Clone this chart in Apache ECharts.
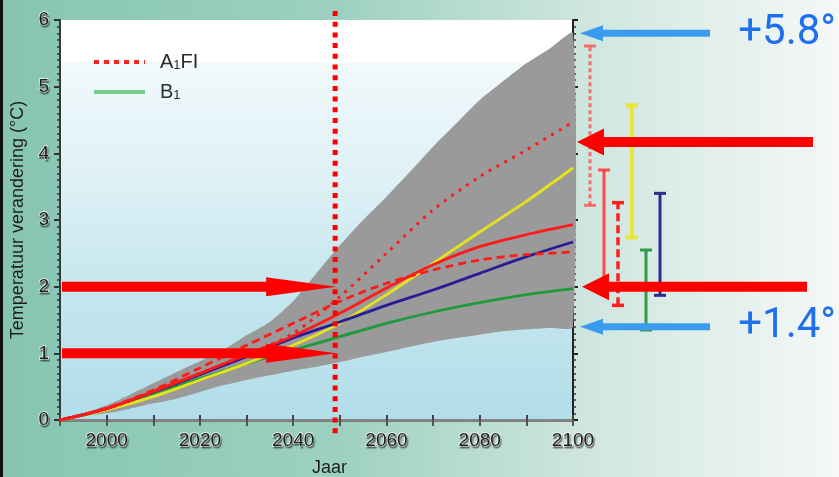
<!DOCTYPE html>
<html>
<head>
<meta charset="utf-8">
<script src="https://cdn.jsdelivr.net/npm/echarts@6/dist/echarts.min.js"></script>
<style>
  html, body { margin: 0; padding: 0; width: 839px; height: 477px; overflow: hidden; }
  #chart { width: 839px; height: 477px; }
</style>
</head>
<body>
<div id="chart"></div>
<script>
// Scenario projections of global temperature change (°C relative to 1990)
const years = [1990, 2000, 2010, 2020, 2030, 2040, 2050, 2060, 2070, 2080, 2090, 2100];
const a1fi = [0, 0.17, 0.42, 0.70, 0.98, 1.30, 1.85, 2.50, 3.15, 3.65, 4.05, 4.47];
const a1b  = [0, 0.17, 0.43, 0.70, 0.98, 1.26, 1.60, 1.98, 2.33, 2.60, 2.78, 2.93];
const a1t  = [0, 0.18, 0.45, 0.78, 1.12, 1.45, 1.78, 2.05, 2.25, 2.40, 2.48, 2.52];
const a2   = [0, 0.15, 0.35, 0.60, 0.85, 1.12, 1.45, 1.88, 2.35, 2.82, 3.28, 3.78];
const b1   = [0, 0.16, 0.40, 0.62, 0.85, 1.05, 1.25, 1.45, 1.62, 1.76, 1.88, 1.97];
const b2   = [0, 0.17, 0.42, 0.68, 0.95, 1.23, 1.47, 1.72, 1.95, 2.20, 2.45, 2.67];

// Full model/scenario envelope
const envYears = [1990, 1995, 2000, 2005, 2010, 2015, 2020, 2025, 2030, 2035, 2040, 2045,
                  2050, 2055, 2060, 2065, 2070, 2075, 2080, 2085, 2090, 2095, 2100];
const envLow   = [0, 0.06, 0.10, 0.17, 0.25, 0.32, 0.42, 0.52, 0.60, 0.67, 0.74, 0.80,
                  0.87, 0.95, 1.02, 1.10, 1.17, 1.23, 1.28, 1.33, 1.36, 1.38, 1.40];
const envHigh  = [0, 0.10, 0.22, 0.38, 0.55, 0.72, 0.88, 1.05, 1.27, 1.47, 1.78, 2.20,
                  2.62, 3.00, 3.35, 3.72, 4.10, 4.45, 4.80, 5.08, 5.35, 5.57, 5.80];

// 2100 ranges per scenario
const barNames = ['A1FI', 'A1B', 'A1T', 'A2', 'B1', 'B2'];
const barLow   = [3.22, 2.00, 1.72, 2.74, 1.35, 1.87];
const barHigh  = [5.61, 3.75, 3.26, 4.72, 2.55, 3.40];

// Annotations
const markerYear = 2049;
const pointerLevels = [2.0, 1.0];        // arrows running up to the marker year
const sideRedLevels = [4.17, 2.0];       // red arrows beside the 2100 ranges
const extremeLevels = [5.8, 1.4];        // blue arrows with labels

const RED = '#ff0000';
const barStyles = {
  A1FI: { color: 'rgba(255,70,70,0.75)', dash: [4, 3], width: 3 },
  A1B:  { color: 'rgba(255,50,50,0.85)', dash: null, width: 3 },
  A1T:  { color: '#ff1f1f', dash: [8, 4], width: 3.5 },
  A2:   { color: '#e8e637', dash: null, width: 4 },
  B1:   { color: '#2f9d48', dash: null, width: 3 },
  B2:   { color: '#2f2a8e', dash: null, width: 3 }
};

const pairs = arr => years.map((y, i) => [y, arr[i]]);

const tickFont = {
  fontFamily: 'Liberation Sans', fontSize: 19, color: '#1e1e1e',
  textBorderColor: 'rgba(255,255,255,0.85)', textBorderWidth: 1.5,
  textShadowColor: 'rgba(0,0,0,0.35)', textShadowOffsetX: 1, textShadowOffsetY: 2, textShadowBlur: 1
};

function lineSeries(name, arr, color, type, width, z) {
  return {
    name, type: 'line', xAxisIndex: 0, yAxisIndex: 0,
    data: pairs(arr), smooth: 0.3, symbol: 'none', showSymbol: false,
    lineStyle: { color, width, type, cap: 'butt' }, itemStyle: { color },
    z, silent: true
  };
}

const hiddenSymbol = { color: 'rgba(0,0,0,0)', borderColor: 'rgba(0,0,0,0)', borderWidth: 0 };

const option = {
  animation: false,
  backgroundColor: {
    type: 'linear', x: 0, y: 0, x2: 1, y2: 0,
    colorStops: [
      { offset: 0, color: '#86c5b1' },
      { offset: 0.4, color: '#9dd0c1' },
      { offset: 0.7, color: '#cfe6df' },
      { offset: 1, color: '#f5f8f7' }
    ]
  },
  grid: [
    {
      left: 60, right: 266, top: 20, bottom: 57, show: true, borderWidth: 0,
      outerBoundsMode: 'none', containLabel: false,
      backgroundColor: {
        type: 'linear', x: 0, y: 0, x2: 0, y2: 1,
        colorStops: [
          { offset: 0, color: '#ffffff' },
          { offset: 0.1, color: '#ffffff' },
          { offset: 0.11, color: '#f1f9fb' },
          { offset: 0.4, color: '#def1f6' },
          { offset: 0.62, color: '#c9e8ef' },
          { offset: 1, color: '#b1dde9' }
        ]
      }
    },
    { left: 583, width: 84, top: 20, bottom: 57, outerBoundsMode: 'none', containLabel: false }
  ],
  legend: {
    left: 87, top: 47, orient: 'vertical', itemWidth: 51, itemHeight: 16, itemGap: 10,
    data: [
      { name: 'A1FI', lineStyle: { color: '#ff2020', width: 4, type: [5, 5] }, itemStyle: hiddenSymbol },
      { name: 'B1', lineStyle: { color: '#7ccd8d', width: 4, type: 'solid' }, itemStyle: hiddenSymbol }
    ],
    formatter: n => n.replace('1', '{s|1}'),
    textStyle: {
      fontFamily: 'Liberation Sans', fontSize: 20, color: '#2b2b2b', padding: [0, 0, 0, 10],
      rich: { s: { fontFamily: 'Liberation Sans', fontSize: 13, color: '#2b2b2b', verticalAlign: 'bottom', padding: [4, 0, 0, 0] } }
    }
  },
  xAxis: [
    {
      type: 'value', gridIndex: 0, min: 1990, max: 2100, interval: 10, position: 'bottom',
      axisLine: { lineStyle: { color: '#7d7d7d', width: 3 } },
      axisTick: { length: 6, lineStyle: { color: '#555', width: 2 } },
      axisLabel: Object.assign({ margin: 11, formatter: v => (v % 20 === 0 ? String(v) : '') }, tickFont),
      splitLine: { show: false },
      name: 'Jaar', nameLocation: 'middle', nameGap: 39,
      nameTextStyle: { fontFamily: 'Liberation Sans', fontSize: 18, color: '#1e1e1e', padding: [0, 0, 0, 26] }
    },
    {
      type: 'value', gridIndex: 0, min: 1990, max: 2100, interval: 10, position: 'top',
      axisLine: { lineStyle: { color: '#858585', width: 2 } },
      axisTick: { length: 5, lineStyle: { color: '#444', width: 2 } },
      axisLabel: { show: false }, splitLine: { show: false }
    },
    {
      type: 'category', gridIndex: 1, data: barNames, show: false
    }
  ],
  yAxis: [
    {
      type: 'value', gridIndex: 0, min: 0, max: 6, interval: 1, position: 'left',
      axisLine: { show: true, lineStyle: { color: '#3a3a3a', width: 2 } },
      axisTick: { show: true, length: 6, lineStyle: { color: '#333', width: 2 } },
      minorTick: { show: true, splitNumber: 10, length: 3, lineStyle: { color: '#333', width: 1.5 } },
      axisLabel: Object.assign({ margin: 11 }, tickFont),
      splitLine: { show: false },
      name: 'Temperatuur verandering (°C)', nameLocation: 'middle', nameGap: 31,
      nameTextStyle: { fontFamily: 'Liberation Sans', fontSize: 18, color: '#1e1e1e' }
    },
    {
      type: 'value', gridIndex: 0, min: 0, max: 6, interval: 1, position: 'right',
      axisLine: { show: true, lineStyle: { color: '#222', width: 2 } },
      axisTick: { show: true, length: 5, lineStyle: { color: '#222', width: 2 } },
      minorTick: { show: true, splitNumber: 10, length: 3, lineStyle: { color: '#333', width: 1.5 } },
      axisLabel: { show: false }, splitLine: { show: false }
    },
    {
      type: 'value', gridIndex: 1, min: 0, max: 6, show: false
    }
  ],
  series: [
    {
      // gray envelope between envLow and envHigh
      name: 'envelope', type: 'custom', xAxisIndex: 0, yAxisIndex: 0, silent: true, z: 1,
      data: [[envYears[0], envLow[0]]],
      renderItem: (params, api) => {
        const upper = envYears.map((y, i) => api.coord([y, envHigh[i]]));
        const lower = envYears.map((y, i) => api.coord([y, envLow[i]])).reverse();
        return {
          type: 'polygon',
          shape: { points: upper.concat(lower), smooth: 0.2 },
          style: { fill: '#9a9a9a' }
        };
      }
    },
    lineSeries('B1', b1, '#1f9a3b', 'solid', 2.8, 3),
    lineSeries('A2', a2, '#e6e21e', 'solid', 2.8, 3),
    lineSeries('B2', b2, '#2a1c96', 'solid', 2.8, 4),
    lineSeries('A1B', a1b, '#ff1a1a', 'solid', 2.8, 5),
    lineSeries('A1T', a1t, '#ff1a1a', [8, 5], 2.8, 5),
    lineSeries('A1FI', a1fi, '#ff1a1a', [3, 6], 3, 6),
    {
      name: 'ranges', type: 'custom', xAxisIndex: 2, yAxisIndex: 2, silent: true, z: 4,
      data: barNames.map((n, i) => [i, barLow[i], barHigh[i]]),
      renderItem: (params, api) => {
        const i = api.value(0);
        const st = barStyles[barNames[i]];
        const lo = api.coord([i, api.value(1)]);
        const hi = api.coord([i, api.value(2)]);
        const cap = 6;
        const base = { stroke: st.color, lineWidth: st.width, fill: null };
        return {
          type: 'group',
          children: [
            { type: 'line', shape: { x1: lo[0], y1: lo[1], x2: hi[0], y2: hi[1] },
              style: Object.assign({}, base, { lineDash: st.dash || null }) },
            { type: 'line', shape: { x1: hi[0] - cap, y1: hi[1], x2: hi[0] + cap, y2: hi[1] }, style: base },
            { type: 'line', shape: { x1: lo[0] - cap, y1: lo[1], x2: lo[0] + cap, y2: lo[1] }, style: base }
          ]
        };
      }
    }
  ]
};

const chart = echarts.init(document.getElementById('chart'));
chart.setOption(option);

const toPx = (x, y) => chart.convertToPixel({ xAxisIndex: 0, yAxisIndex: 0 }, [x, y]);

// Arrow polygon: shaft from tail to head, head ending at tip
function arrow(tailX, tipX, y, shaftH, headL, headH, color) {
  const d = tipX > tailX ? 1 : -1;
  const baseX = tipX - d * headL;
  return {
    type: 'polygon', z: 20, silent: true,
    shape: { points: [
      [tailX, y - shaftH / 2], [baseX, y - shaftH / 2], [baseX, y - headH / 2],
      [tipX, y], [baseX, y + headH / 2], [baseX, y + shaftH / 2], [tailX, y + shaftH / 2]
    ] },
    style: { fill: color }
  };
}

const graphics = [];
// dark frame edge on the left
graphics.push({ type: 'rect', shape: { x: 0, y: 0, width: 3, height: 477 }, style: { fill: '#111' }, z: 30, silent: true });

// dotted vertical marker
const mx = toPx(markerYear, 0)[0];
graphics.push({
  type: 'line', z: 18, silent: true,
  shape: { x1: mx, y1: 11, x2: mx, y2: 434 },
  style: { stroke: RED, lineWidth: 5, lineDash: [5, 5.7] }
});

const startX = toPx(1990, 0)[0] + 2;
pointerLevels.forEach(v => {
  const y = toPx(1990, v)[1];
  graphics.push(arrow(startX, mx + 1, y, 10, 70, 19, RED));
});

const sideTips = [577, 582];
const sideTails = [813, 807];
sideRedLevels.forEach((v, i) => {
  const y = toPx(2100, v)[1];
  graphics.push(arrow(sideTails[i], sideTips[i], y, 10, 27, 27, RED));
});

extremeLevels.forEach(v => {
  const y = toPx(2100, v)[1];
  graphics.push(arrow(710, 580, y, 7, 23, 16, '#3a9bf0'));
  graphics.push({
    type: 'text', z: 20, silent: true,
    style: {
      text: '+' + v.toFixed(1) + '°', x: 836, y: y, align: 'right', verticalAlign: 'middle',
      fontFamily: 'Roboto', fontSize: 42, fill: '#1f70ef'
    }
  });
});

chart.setOption({ graphic: graphics });
</script>
</body>
</html>
